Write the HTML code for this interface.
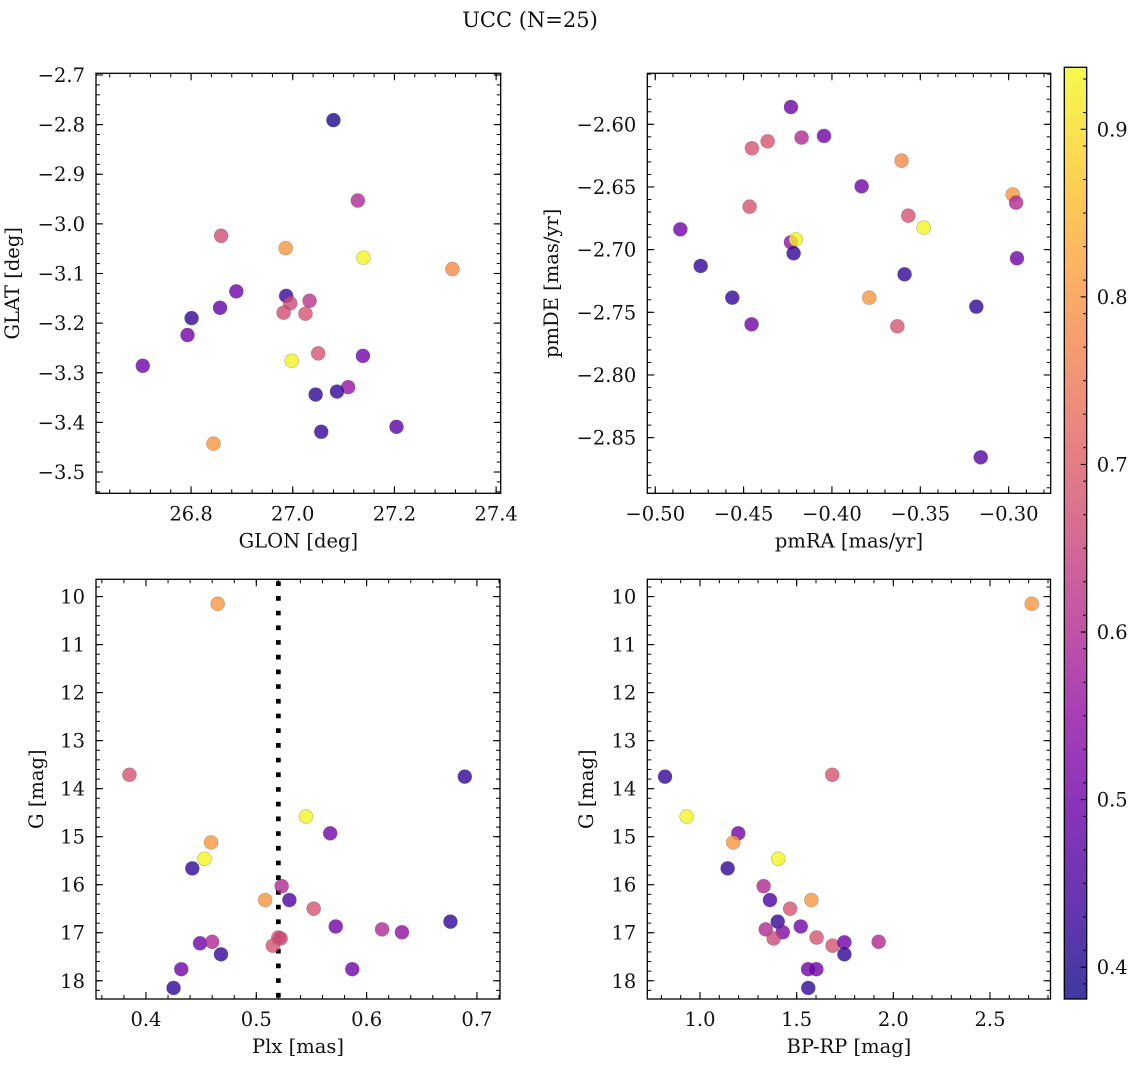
<!DOCTYPE html>
<html><head><meta charset="utf-8"><title>UCC (N=25)</title>
<style>
html,body{margin:0;padding:0;background:#fff;}
svg{display:block;font-family:"DejaVu Serif","Liberation Serif",serif;}
</style></head>
<body>
<svg id="fig" width="1136" height="1067" viewBox="0 0 1136 1067" xmlns="http://www.w3.org/2000/svg">
<rect width="1136" height="1067" fill="#fff"/>
<text x="530" y="27" font-size="21" text-anchor="middle" fill="#111">UCC (N=25)</text>
</svg>
<script>
// Panel 1: GLON vs GLAT
const glonValues = [27.080,27.128,26.859,26.986,27.139,27.314,26.889,26.987,26.995,27.033,26.857,26.801,26.982,27.025,26.793,26.705,26.998,27.050,27.138,27.109,27.045,27.087,27.056,27.204,26.844];
const glatValues = [-2.791,-2.953,-3.024,-3.049,-3.068,-3.091,-3.136,-3.145,-3.160,-3.155,-3.169,-3.190,-3.179,-3.181,-3.224,-3.286,-3.276,-3.261,-3.266,-3.329,-3.344,-3.338,-3.419,-3.409,-3.443];
const probP1 = [0.40,0.60,0.67,0.80,0.93,0.78,0.50,0.43,0.66,0.62,0.48,0.42,0.67,0.68,0.50,0.50,0.93,0.68,0.50,0.56,0.42,0.42,0.42,0.47,0.80];
// Panel 2: pmRA vs pmDE
const pmraValues = [-0.4232,-0.4364,-0.4453,-0.4172,-0.4045,-0.3606,-0.3832,-0.3568,-0.3481,-0.2977,-0.2958,-0.4466,-0.4858,-0.4232,-0.4204,-0.4217,-0.4743,-0.3589,-0.2953,-0.4564,-0.3789,-0.4455,-0.3630,-0.3183,-0.3158];
const pmdeValues = [-2.5862,-2.6136,-2.6191,-2.6106,-2.6093,-2.6290,-2.6495,-2.6729,-2.6824,-2.6559,-2.6625,-2.6657,-2.6838,-2.6941,-2.6918,-2.7029,-2.7130,-2.7197,-2.7069,-2.7383,-2.7383,-2.7596,-2.7612,-2.7455,-2.8657];
const probP2 = [0.50,0.68,0.68,0.60,0.50,0.78,0.50,0.68,0.93,0.80,0.60,0.68,0.50,0.55,0.93,0.42,0.42,0.42,0.50,0.42,0.80,0.50,0.68,0.42,0.46];
// Panel 3: Plx vs G
const plxValues = [0.465,0.385,0.689,0.545,0.567,0.459,0.453,0.442,0.523,0.508,0.530,0.552,0.572,0.614,0.632,0.676,0.520,0.522,0.515,0.449,0.460,0.468,0.432,0.587,0.425];
const gP3Values = [10.15,13.71,13.75,14.58,14.93,15.12,15.46,15.66,16.03,16.32,16.32,16.50,16.87,16.93,16.99,16.77,17.10,17.12,17.27,17.22,17.19,17.45,17.76,17.76,18.15];
const probP3 = [0.80,0.68,0.42,0.93,0.50,0.80,0.93,0.42,0.60,0.80,0.45,0.68,0.50,0.60,0.55,0.42,0.68,0.66,0.68,0.50,0.60,0.42,0.50,0.50,0.42];
const plxCut = 0.52;
// Panel 4: BP-RP vs G
const bprpValues = [2.716,0.819,1.684,0.931,1.198,1.172,1.405,1.143,1.329,1.576,1.362,1.466,1.402,1.521,1.340,1.428,1.603,1.381,1.686,1.747,1.924,1.747,1.559,1.602,1.560];
const gP4Values = [10.15,13.75,13.71,14.58,14.93,15.12,15.46,15.66,16.03,16.32,16.32,16.50,16.77,16.87,16.93,16.99,17.10,17.12,17.27,17.20,17.19,17.45,17.76,17.76,18.15];
const probP4 = [0.80,0.42,0.68,0.93,0.50,0.80,0.93,0.42,0.60,0.80,0.45,0.68,0.42,0.50,0.60,0.52,0.68,0.66,0.68,0.50,0.60,0.42,0.50,0.50,0.42];
// Tick labels
const p1XTicks = [26.8,27.0,27.2,27.4];
const p1YTicks = [-2.7,-2.8,-2.9,-3.0,-3.1,-3.2,-3.3,-3.4,-3.5];
const p2XTicks = [-0.50,-0.45,-0.40,-0.35,-0.30];
const p2YTicks = [-2.60,-2.65,-2.70,-2.75,-2.80,-2.85];
const p3XTicks = [0.4,0.5,0.6,0.7];
const gTicks = [10,11,12,13,14,15,16,17,18];
const p4XTicks = [1.0,1.5,2.0,2.5];
const cbarTicks = [0.4,0.5,0.6,0.7,0.8,0.9];

const NS = "http://www.w3.org/2000/svg";
const svg = document.getElementById('fig');
const FS = 19.5;
function mk(tag, attrs, parent){
  const e = document.createElementNS(NS, tag);
  for (const k in attrs) e.setAttribute(k, attrs[k]);
  (parent||svg).appendChild(e);
  return e;
}
const plasmaStops = ['#0d0887','#41049d','#6a00a8','#8f0da4','#b12a90','#cc4778','#e16462','#f2844b','#fca636','#fcce25','#f0f921'];
function hex2rgb(h){return [parseInt(h.slice(1,3),16),parseInt(h.slice(3,5),16),parseInt(h.slice(5,7),16)];}
function plasma(t){
  t=Math.max(0,Math.min(1,t));
  const s=t*10, i=Math.min(9,Math.floor(s)), f=s-i;
  const a=hex2rgb(plasmaStops[i]), b=hex2rgb(plasmaStops[i+1]);
  return 'rgb('+a.map((v,k)=>Math.round(v+(b[k]-v)*f)).join(',')+')';
}
const cMin = 0.381, cMax = 0.937;
function cNorm(v){return (v-cMin)/(cMax-cMin);}

function fmt(v, d){ const s=Math.abs(v).toFixed(d); return (v<0?'\u2212':'')+s; }

function panel(cfg){
  const {name,x0,y0,w,h,xmin,xmax,ymin,ymax,invertY} = cfg;
  const g = mk('g',{});
  
  
  const sx = v => x0 + (v-xmin)/(xmax-xmin)*w;
  const sy = v => invertY ? y0 + (v-ymin)/(ymax-ymin)*h : y0 + h - (v-ymin)/(ymax-ymin)*h;
  const eps=1e-9;
  for (let v=Math.ceil(xmin/cfg.xMinor-eps)*cfg.xMinor; v<=xmax+eps; v+=cfg.xMinor){
    const x=sx(v);
    mk('line',{x1:x,y1:y0+h,x2:x,y2:y0+h-4,stroke:'#000','stroke-width':1},g);
    mk('line',{x1:x,y1:y0,x2:x,y2:y0+4,stroke:'#000','stroke-width':1},g);
  }
  const ylo=Math.min(ymin,ymax), yhi=Math.max(ymin,ymax);
  for (let v=Math.ceil(ylo/cfg.yMinor-eps)*cfg.yMinor; v<=yhi+eps; v+=cfg.yMinor){
    const y=sy(v);
    mk('line',{x1:x0,y1:y,x2:x0+4,y2:y,stroke:'#000','stroke-width':1},g);
    mk('line',{x1:x0+w,y1:y,x2:x0+w-4,y2:y,stroke:'#000','stroke-width':1},g);
  }
  cfg.xTicks.forEach(v=>{
    const x=sx(v);
    mk('line',{x1:x,y1:y0+h,x2:x,y2:y0+h-7,stroke:'#000','stroke-width':1.1},g);
    mk('line',{x1:x,y1:y0,x2:x,y2:y0+7,stroke:'#000','stroke-width':1.1},g);
    const t=mk('text',{x:x,y:y0+h+27,'font-size':FS,'text-anchor':'middle',fill:'#111'},g);
    t.textContent=fmt(v,cfg.xDec);
    
    
  });
  cfg.yTicks.forEach(v=>{
    const y=sy(v);
    mk('line',{x1:x0,y1:y,x2:x0+7,y2:y,stroke:'#000','stroke-width':1.1},g);
    mk('line',{x1:x0+w,y1:y,x2:x0+w-7,y2:y,stroke:'#000','stroke-width':1.1},g);
    const t=mk('text',{x:x0-11,y:y+7,'font-size':FS,'text-anchor':'end',fill:'#111'},g);
    t.textContent=fmt(v,cfg.yDec);
    
    
  });
  if (cfg.vline!==undefined){
    const x=sx(cfg.vline);
    const l=mk('line',{x1:x,y1:y0+2,x2:x,y2:y0+h,stroke:'#000','stroke-width':4.7,'stroke-dasharray':'4.7 10'},g);
    
    
  }
  cfg.xs.forEach((xv,i)=>{
    const c=mk('circle',{cx:sx(xv),cy:sy(cfg.ys[i]),r:7,fill:plasma(cNorm(cfg.cs[i])),'fill-opacity':0.8,stroke:'rgba(60,60,60,0.35)','stroke-width':0.6},g);
    
    
  });
  const fr=mk('rect',{x:x0,y:y0,width:w,height:h,fill:'none',stroke:'#000','stroke-width':1.3},g);
  
  
  const xl=mk('text',{x:x0+w/2,y:y0+h+54,'font-size':FS,'text-anchor':'middle',fill:'#111'},g);
  xl.textContent=cfg.xLabel;
  
  
  const yl=mk('text',{x:0,y:0,'font-size':FS,'text-anchor':'middle',fill:'#111',transform:'translate('+cfg.yLabelX+','+(y0+h/2)+') rotate(-90)'},g);
  yl.textContent=cfg.yLabel;
  
  
}

panel({name:'panel-glon-glat',x0:96,y0:73.3,w:404.7,h:420,xmin:26.613,xmax:27.409,ymin:-3.5429,ymax:-2.6966,
  xTicks:p1XTicks,yTicks:p1YTicks,xMinor:0.04,yMinor:0.02,xDec:1,yDec:1,xs:glonValues,ys:glatValues,cs:probP1,
  xLabel:'GLON [deg]',yLabel:'GLAT [deg]',yLabelX:19});
panel({name:'panel-pm',x0:647.3,y0:73.3,w:403.4,h:420,xmin:-0.5045,xmax:-0.2762,ymin:-2.8944,ymax:-2.5593,
  xTicks:p2XTicks,yTicks:p2YTicks,xMinor:0.01,yMinor:0.01,xDec:2,yDec:2,xs:pmraValues,ys:pmdeValues,cs:probP2,
  xLabel:'pmRA [mas/yr]',yLabel:'pmDE [mas/yr]',yLabelX:558});
panel({name:'panel-plx-g',x0:96,y0:579.3,w:404,h:419.7,xmin:0.3547,xmax:0.7209,ymin:9.64,ymax:18.38,invertY:true,
  xTicks:p3XTicks,yTicks:gTicks,xMinor:0.02,yMinor:0.2,xDec:1,yDec:0,xs:plxValues,ys:gP3Values,cs:probP3,vline:plxCut,
  xLabel:'Plx [mas]',yLabel:'G [mag]',yLabelX:43});
panel({name:'panel-cmd',x0:647.3,y0:579.3,w:403.2,h:419.7,xmin:0.7274,xmax:2.813,ymin:9.64,ymax:18.38,invertY:true,
  xTicks:p4XTicks,yTicks:gTicks,xMinor:0.1,yMinor:0.2,xDec:1,yDec:0,xs:bprpValues,ys:gP4Values,cs:probP4,
  xLabel:'BP-RP [mag]',yLabel:'G [mag]',yLabelX:593});

// Colorbar
(function(){
  const x0=1064.3, y0=67.3, w=22.4, h=931.7;
  const g=mk('g',{});
  
  
  const defs=mk('defs',{},g);
  const lg=mk('linearGradient',{id:'cbg',x1:0,y1:1,x2:0,y2:0},defs);
  for(let i=0;i<=20;i++){
    const v=cMin+(cMax-cMin)*i/20;
    mk('stop',{offset:(i/20),'stop-color':plasma(cNorm(v)),'stop-opacity':0.8},lg);
  }
  const sy=v=>y0+h-(v-cMin)/(cMax-cMin)*h;
  mk('rect',{x:x0,y:y0,width:w,height:h,fill:'url(#cbg)'},g);
  for(let v=0.39; v<cMax; v+=0.02){ const y=sy(v); if(y<y0||y>y0+h) continue;
    mk('line',{x1:x0+w,y1:y,x2:x0+w-3.5,y2:y,stroke:'#000','stroke-width':1},g); }
  cbarTicks.forEach(v=>{
    const y=sy(v);
    mk('line',{x1:x0+w,y1:y,x2:x0+w-6,y2:y,stroke:'#000','stroke-width':1.1},g);
    const t=mk('text',{x:x0+w+10,y:y+7,'font-size':FS,fill:'#111'},g);
    t.textContent=v.toFixed(1);
    
    
  });
  mk('rect',{x:x0,y:y0,width:w,height:h,fill:'none',stroke:'#000','stroke-width':1.3},g);
})();
</script>
</body></html>
